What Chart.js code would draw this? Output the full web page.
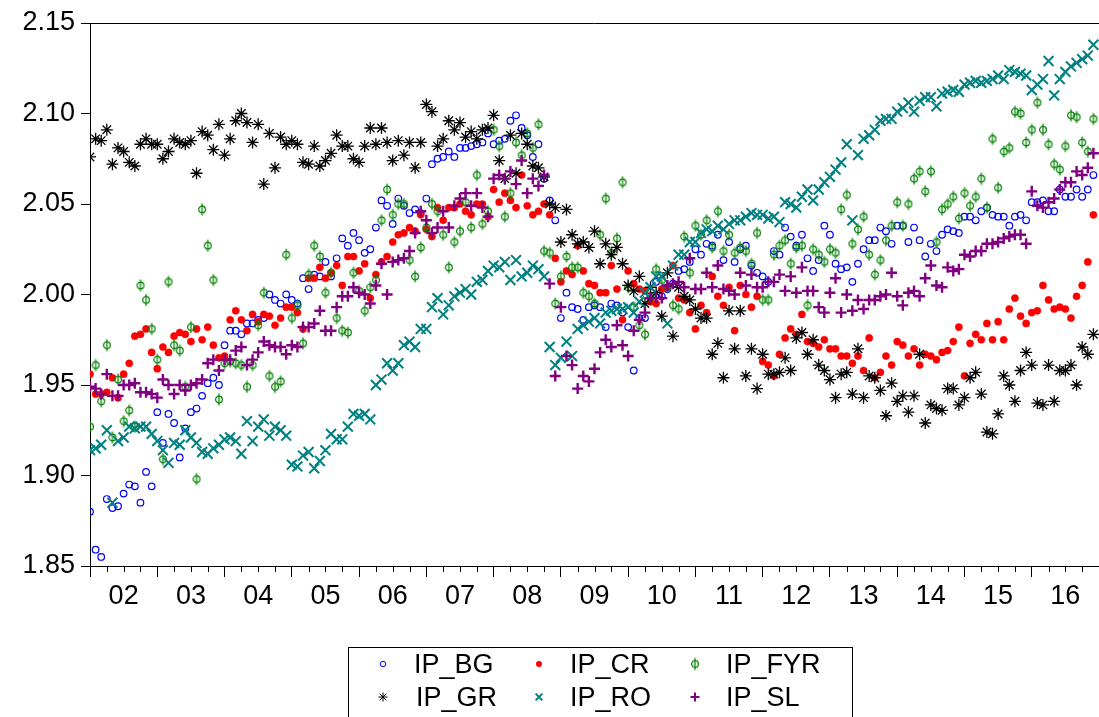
<!DOCTYPE html>
<html>
<head>
<meta charset="utf-8">
<title>IP series</title>
<script src="https://cdn.jsdelivr.net/npm/chart.js@4.4.1/dist/chart.umd.min.js"></script>
<style>
    html, body { margin: 0; padding: 0; background: #fff; overflow: hidden; }
    #wrap { position: relative; width: 1099px; height: 717px; }
    #legend {
        position: absolute; left: 348px; top: 647px; width: 505px; height: 90px;
        border: 1px solid #000; box-sizing: border-box;
    }
    .lg-mark { position: absolute; width: 16px; height: 16px; }
    .lg-text {
        position: absolute; font-family: 'Liberation Sans', Arial, sans-serif;
        font-size: 27px; line-height: 27px; color: #000; white-space: nowrap;
    }
</style>
</head>
<body>
<div id="wrap">
    <canvas id="ipChart" width="1099" height="717"></canvas>
    <div id="legend"></div>
</div>
<script>
// Monthly data, 2002M01 .. 2016M12 (log levels)
const yearLabels = ['02', '03', '04', '05', '06', '07', '08', '09', '10', '11', '12', '13', '14', '15', '16'];
const seriesNames = ['IP_BG', 'IP_CR', 'IP_FYR', 'IP_GR', 'IP_RO', 'IP_SL'];

const ipBG = [1.880,1.859,1.855,1.887,1.882,1.883,1.890,1.895,1.894,1.885,
    1.902,1.894,1.935,1.918,1.934,1.929,1.910,1.926,1.935,1.937,
    1.944,1.951,1.954,1.950,1.972,1.980,1.980,1.978,1.984,1.984,
    1.986,1.987,2.000,1.997,1.995,2.000,1.997,1.995,2.009,2.003,
    2.011,2.010,2.018,2.010,2.020,2.031,2.027,2.034,2.030,2.023,
    2.025,2.037,2.052,2.049,2.039,2.053,2.049,2.045,2.047,2.045,
    2.053,2.072,2.075,2.076,2.079,2.076,2.081,2.081,2.082,2.083,
    2.084,2.089,2.083,2.085,2.086,2.096,2.099,2.092,2.088,2.076,
    2.083,2.064,2.052,2.041,1.987,2.001,1.993,1.992,1.986,1.993,
    1.994,1.993,1.982,1.995,1.994,1.990,1.982,1.958,1.987,1.987,
    1.999,2.007,1.999,2.003,2.006,2.013,2.014,2.018,2.025,2.022,
    2.028,2.027,2.033,2.019,2.029,2.018,2.025,2.027,2.016,2.012,
    2.010,2.007,2.024,2.022,2.037,2.032,2.027,2.033,2.020,2.013,
    2.019,2.038,2.033,2.017,2.014,2.015,2.007,2.017,2.025,2.030,
    2.030,2.037,2.035,2.028,2.038,2.038,2.029,2.037,2.030,2.021,
    2.028,2.024,2.033,2.036,2.035,2.034,2.043,2.043,2.041,2.046,
    2.048,2.044,2.043,2.043,2.038,2.043,2.044,2.041,2.051,2.051,
    2.052,2.046,2.046,2.058,2.054,2.054,2.058,2.054,2.058,2.066];

const ipCR = [1.956,1.945,1.945,1.946,1.954,1.943,1.956,1.962,1.977,1.978,
    1.981,1.968,1.959,1.971,1.968,1.977,1.979,1.978,1.974,1.981,
    1.975,1.982,1.972,1.965,1.966,1.986,1.991,1.986,1.980,1.989,
    1.985,1.989,1.988,1.983,1.987,1.993,1.993,1.990,1.981,2.009,
    2.009,2.015,2.009,2.012,2.016,2.005,2.021,2.021,2.013,2.017,
    1.998,2.011,2.018,2.021,2.029,2.033,2.034,2.037,2.035,2.044,
    2.036,2.032,2.048,2.041,2.048,2.048,2.050,2.046,2.044,2.050,
    2.050,2.043,2.058,2.051,2.056,2.052,2.048,2.066,2.049,2.044,
    2.046,2.050,2.044,2.020,2.007,2.013,2.011,2.027,2.013,2.006,
    2.005,2.001,2.001,2.016,2.003,1.986,2.013,2.006,2.003,2.002,
    1.996,1.995,2.003,2.004,2.016,1.998,1.997,1.990,1.981,1.994,
    1.990,2.010,1.999,1.994,2.004,1.980,2.005,2.000,1.993,1.999,
    1.963,1.961,1.955,1.967,1.976,1.981,1.978,1.989,1.974,1.973,
    1.971,1.975,1.970,1.970,1.966,1.966,1.962,1.966,1.958,1.976,
    1.954,1.957,1.966,1.961,1.974,1.972,1.966,1.970,1.961,1.967,
    1.966,1.964,1.968,1.969,1.974,1.982,1.955,1.973,1.978,1.975,
    1.984,1.975,1.985,1.975,1.992,1.998,1.988,1.984,1.990,1.991,
    2.005,1.997,1.992,1.993,1.992,1.987,1.999,2.005,2.018,2.044];

const ipFYR = [1.927,1.961,1.941,1.972,1.921,1.953,1.930,1.936,1.927,2.005,
    1.997,1.981,1.964,1.909,2.007,1.972,1.969,1.949,1.982,1.898,
    2.047,2.027,2.008,1.942,1.962,1.963,1.962,1.961,1.949,1.961,
    1.983,2.001,1.955,1.949,1.952,2.022,1.987,1.994,1.973,2.011,
    2.027,2.021,2.001,2.012,1.987,1.980,1.979,2.012,2.002,1.991,
    2.004,2.008,2.041,2.058,2.044,2.050,2.050,2.019,2.010,2.026,
    2.037,2.050,2.046,2.033,2.015,2.029,2.035,2.051,2.037,2.066,
    2.039,2.046,2.091,2.082,2.043,2.056,2.084,2.077,2.089,2.081,
    2.094,2.024,2.023,1.995,2.010,2.021,2.015,2.015,2.001,1.999,
    1.995,2.033,2.053,2.023,2.031,2.062,2.004,1.993,1.983,1.978,
    1.998,2.014,2.008,2.004,1.994,1.992,2.032,2.012,2.038,2.033,
    2.041,2.026,2.046,2.024,2.033,2.023,2.026,2.024,2.017,2.034,
    1.997,1.997,2.022,2.027,2.030,2.017,2.026,2.027,1.994,2.025,
    2.022,2.018,2.025,2.023,2.047,2.055,2.028,2.036,2.043,2.022,
    2.011,2.019,2.030,2.038,2.051,2.038,2.050,2.064,2.068,2.057,
    2.068,2.029,2.047,2.050,2.054,2.042,2.056,2.049,2.054,2.064,
    2.048,2.086,2.059,2.079,2.081,2.101,2.100,2.084,2.091,2.106,
    2.091,2.083,2.072,2.069,2.082,2.099,2.098,2.084,2.079,2.097];

const ipGR = [2.076,2.086,2.085,2.091,2.072,2.081,2.079,2.073,2.071,2.083,
    2.086,2.083,2.083,2.075,2.079,2.086,2.084,2.083,2.085,2.067,
    2.090,2.088,2.080,2.094,2.077,2.086,2.096,2.100,2.095,2.084,
    2.094,2.061,2.089,2.070,2.087,2.083,2.085,2.083,2.073,2.072,
    2.082,2.071,2.074,2.078,2.088,2.082,2.082,2.075,2.073,2.082,
    2.092,2.083,2.092,2.084,2.074,2.085,2.077,2.084,2.070,2.084,
    2.105,2.101,2.082,2.086,2.096,2.091,2.095,2.087,2.090,2.086,
    2.091,2.092,2.099,2.074,2.064,2.088,2.067,2.089,2.083,2.071,
    2.070,2.065,2.050,2.048,2.029,2.047,2.033,2.028,2.029,2.026,
    2.035,2.017,2.028,2.022,2.026,2.017,2.005,2.002,2.010,1.995,
    2.004,2.001,1.988,2.012,1.977,2.004,1.999,1.997,1.992,1.987,
    1.987,1.967,1.973,1.954,1.991,1.970,1.991,1.955,1.970,1.948,
    1.967,1.956,1.956,1.957,1.965,1.958,1.976,1.979,1.967,1.975,
    1.961,1.958,1.953,1.943,1.956,1.957,1.945,1.970,1.943,1.955,
    1.954,1.947,1.933,1.951,1.941,1.944,1.935,1.944,1.967,1.929,
    1.939,1.937,1.936,1.948,1.948,1.939,1.943,1.954,1.957,1.945,
    1.924,1.923,1.934,1.955,1.950,1.941,1.958,1.968,1.961,1.940,
    1.939,1.961,1.941,1.958,1.958,1.961,1.950,1.971,1.967,1.978];

const ipRO = [1.914,1.915,1.917,1.925,1.885,1.919,1.921,1.927,1.926,1.927,
    1.927,1.923,1.919,1.914,1.907,1.918,1.917,1.925,1.921,1.918,
    1.913,1.912,1.915,1.917,1.920,1.921,1.919,1.912,1.930,1.919,
    1.927,1.931,1.922,1.927,1.925,1.922,1.906,1.905,1.911,1.913,
    1.904,1.908,1.914,1.923,1.920,1.920,1.927,1.934,1.933,1.934,
    1.931,1.950,1.953,1.962,1.958,1.962,1.972,1.974,1.971,1.981,
    1.981,1.993,1.998,1.989,1.994,1.999,2.001,2.003,2.000,2.007,
    2.008,2.013,2.016,2.015,2.018,2.008,2.019,2.010,2.012,2.016,
    2.014,2.010,1.971,1.961,1.965,1.974,1.966,1.981,1.983,1.985,
    1.987,1.984,1.990,1.991,1.992,1.992,1.993,1.990,1.996,2.001,
    2.004,2.010,2.010,1.984,2.016,2.022,2.022,2.029,2.029,2.034,
    2.036,2.035,2.038,2.036,2.039,2.041,2.041,2.043,2.045,2.044,
    2.044,2.042,2.043,2.040,2.051,2.050,2.048,2.054,2.058,2.052,
    2.058,2.062,2.065,2.069,2.073,2.083,2.041,2.077,2.086,2.088,
    2.091,2.096,2.097,2.097,2.101,2.103,2.106,2.101,2.107,2.109,
    2.109,2.104,2.111,2.112,2.113,2.112,2.116,2.117,2.118,2.117,
    2.118,2.119,2.121,2.119,2.124,2.123,2.122,2.121,2.113,2.116,
    2.119,2.129,2.110,2.119,2.123,2.126,2.128,2.130,2.132,2.138];

const ipSL = [1.949,1.948,1.945,1.956,1.944,1.944,1.950,1.950,1.951,1.946,
    1.946,1.945,1.943,1.953,1.950,1.945,1.950,1.947,1.950,1.951,
    1.953,1.962,1.964,1.958,1.964,1.964,1.969,1.971,1.961,1.964,
    1.968,1.974,1.972,1.971,1.971,1.967,1.972,1.971,1.982,1.982,
    1.984,1.991,1.980,1.980,1.993,1.999,1.999,2.004,2.001,2.000,
    1.995,2.005,2.017,2.000,2.018,2.019,2.020,2.024,2.034,2.046,
    2.041,2.034,2.037,2.046,2.037,2.049,2.053,2.056,2.049,2.056,
    2.048,2.043,2.064,2.066,2.064,2.068,2.061,2.074,2.056,2.064,
    2.060,2.066,2.006,1.955,1.993,1.966,1.961,1.948,1.955,1.952,
    1.959,1.968,1.975,1.971,1.983,1.972,1.966,1.980,1.986,1.990,
    1.998,1.998,1.998,2.005,2.006,2.007,2.004,2.020,2.003,2.003,
    2.012,2.004,2.016,2.003,2.002,2.000,2.012,2.005,2.011,2.004,
    2.004,2.007,2.007,2.011,2.002,2.010,2.001,2.015,2.002,2.002,
    1.993,1.990,2.001,2.009,1.990,2.000,1.991,1.997,1.992,1.997,
    1.997,1.999,2.000,2.012,1.999,1.994,2.001,2.002,1.999,2.009,
    2.016,2.005,2.004,2.015,2.013,2.014,2.022,2.021,2.024,2.024,
    2.028,2.028,2.029,2.031,2.032,2.033,2.033,2.028,2.057,2.049,
    2.048,2.051,2.053,2.058,2.062,2.062,2.068,2.066,2.070,2.078];

const yTicks = [1.85, 1.90, 1.95, 2.00, 2.05, 2.10, 2.15];

const FONT = "'Liberation Sans', Arial, sans-serif";
const GREEN = '#008000';

// phi-like marker (circle with vertical stroke) for IP_FYR
const makePhi = () => {
    const c = document.createElement('canvas');
    c.width = 10; c.height = 15;
    const g = c.getContext('2d');
    g.strokeStyle = GREEN; g.lineWidth = 1.2;
    g.beginPath(); g.arc(5, 7.5, 3.4, 0, Math.PI * 2); g.stroke();
    g.beginPath(); g.moveTo(5, 1.5); g.lineTo(5, 13.5); g.stroke();
    return c;
};
const phiMark = makePhi();

const styles = [
    { pointStyle: 'circle', pointRadius: 3.3, borderColor: '#0000ff', backgroundColor: 'rgba(0,0,0,0)', borderWidth: 1.2 },
    { pointStyle: 'circle', pointRadius: 3.6, borderColor: '#ff0000', backgroundColor: '#ff0000', borderWidth: 0.5 },
    { pointStyle: phiMark, pointRadius: 5, borderColor: GREEN, backgroundColor: GREEN },
    { pointStyle: 'star', pointRadius: 6, borderColor: '#000000', backgroundColor: '#000000', borderWidth: 1.3 },
    { pointStyle: 'crossRot', pointRadius: 7, borderColor: '#008080', backgroundColor: '#008080', borderWidth: 2 },
    { pointStyle: 'cross', pointRadius: 5.5, borderColor: '#800080', backgroundColor: '#800080', borderWidth: 2.4 }
];
const values = [ipBG, ipCR, ipFYR, ipGR, ipRO, ipSL];

const datasets = seriesNames.map((name, k) => ({
    label: name,
    data: values[k].map((v, i) => ({ x: i, y: v })),
    showLine: false,
    order: 6 - k,
    ...styles[k]
}));

// Top frame line + short quarterly ticks
const framePlugin = {
    id: 'frame',
    afterDraw(chart) {
        const { ctx, chartArea: a, scales: { x } } = chart;
        ctx.save();
        ctx.strokeStyle = '#000';
        ctx.lineWidth = 1;
        ctx.beginPath();
        ctx.moveTo(a.left, a.top + 0.5);
        ctx.lineTo(a.right, a.top + 0.5);
        x.ticks.forEach(t => {
            if (t.value % 12 === 0) return;
            const px = Math.round(x.getPixelForValue(t.value)) + 0.5;
            ctx.moveTo(px, a.bottom);
            ctx.lineTo(px, a.bottom + 6);
        });
        ctx.stroke();
        ctx.restore();
    }
};

Chart.defaults.font.family = FONT;
Chart.defaults.color = '#000';

new Chart(document.getElementById('ipChart'), {
    type: 'scatter',
    data: { datasets },
    options: {
        responsive: false,
        devicePixelRatio: 1,
        animation: false,
        layout: { autoPadding: false, padding: { top: 23, left: 0, right: 0, bottom: 0 } },
        plugins: { legend: { display: false }, tooltip: { enabled: false } },
        scales: {
            x: {
                type: 'linear', min: 0, max: 180,
                afterFit: s => { s.height = 151; s.paddingRight = 0; s.paddingLeft = 0; },
                ticks: {
                    stepSize: 3, autoSkip: false, maxRotation: 0, padding: 3,
                    font: { size: 27 },
                    callback: v => (v % 12 === 6 ? yearLabels[(v - 6) / 12] : '')
                },
                grid: {
                    drawOnChartArea: false, tickLength: 11,
                    tickColor: c => (c.tick && c.tick.value % 12 === 0 ? '#000' : 'rgba(0,0,0,0)')
                },
                border: { color: '#000', width: 1 }
            },
            y: {
                min: yTicks[0], max: yTicks[yTicks.length - 1],
                afterFit: s => { s.width = 90; },
                afterBuildTicks: s => { s.ticks = yTicks.map(v => ({ value: v })); },
                ticks: { font: { size: 27 }, padding: 6, callback: v => v.toFixed(2) },
                grid: { drawOnChartArea: false, tickLength: 9, tickColor: '#000' },
                border: { color: '#000', width: 1 }
            }
        }
    },
    plugins: [framePlugin]
});

// Legend (boxed, 3 columns x 2 rows)
const legendPos = [[383, 664, 414], [539, 664, 570], [695, 664, 726],
                   [383, 697, 416], [539, 697, 570], [695, 697, 726]];
const legendEl = document.getElementById('legend');
const box = { left: 348, top: 647 };

const drawMark = (g, k) => {
    const s = styles[k];
    const cx = 8, cy = 8;
    g.strokeStyle = s.borderColor;
    g.fillStyle = s.backgroundColor;
    g.lineWidth = k === 3 ? 1 : (k >= 4 ? 2 : 1);
    g.beginPath();
    if (k === 0) { g.arc(cx, cy, 2.8, 0, Math.PI * 2); g.stroke(); }
    else if (k === 1) { g.arc(cx, cy, 3, 0, Math.PI * 2); g.fill(); }
    else if (k === 2) { g.drawImage(phiMark, cx - 5, cy - 7.5); }
    else {
        const r = 4.5;
        if (k === 3 || k === 5) { g.moveTo(cx - r, cy); g.lineTo(cx + r, cy); g.moveTo(cx, cy - r); g.lineTo(cx, cy + r); }
        if (k === 3 || k === 4) { const d = r * 0.75; g.moveTo(cx - d, cy - d); g.lineTo(cx + d, cy + d); g.moveTo(cx - d, cy + d); g.lineTo(cx + d, cy - d); }
        g.stroke();
    }
};

seriesNames.forEach((name, k) => {
    const [mx, my, tx] = legendPos[k];
    const mark = document.createElement('canvas');
    mark.width = 16; mark.height = 16;
    mark.className = 'lg-mark';
    mark.style.left = (mx - box.left - 9) + 'px';
    mark.style.top = (my - box.top - 9) + 'px';
    drawMark(mark.getContext('2d'), k);
    legendEl.appendChild(mark);

    const t = document.createElement('div');
    t.className = 'lg-text';
    t.textContent = name;
    t.style.left = (tx - box.left - 1) + 'px';
    t.style.top = (my - box.top - 14) + 'px';
    legendEl.appendChild(t);
});
</script>
</body>
</html>
